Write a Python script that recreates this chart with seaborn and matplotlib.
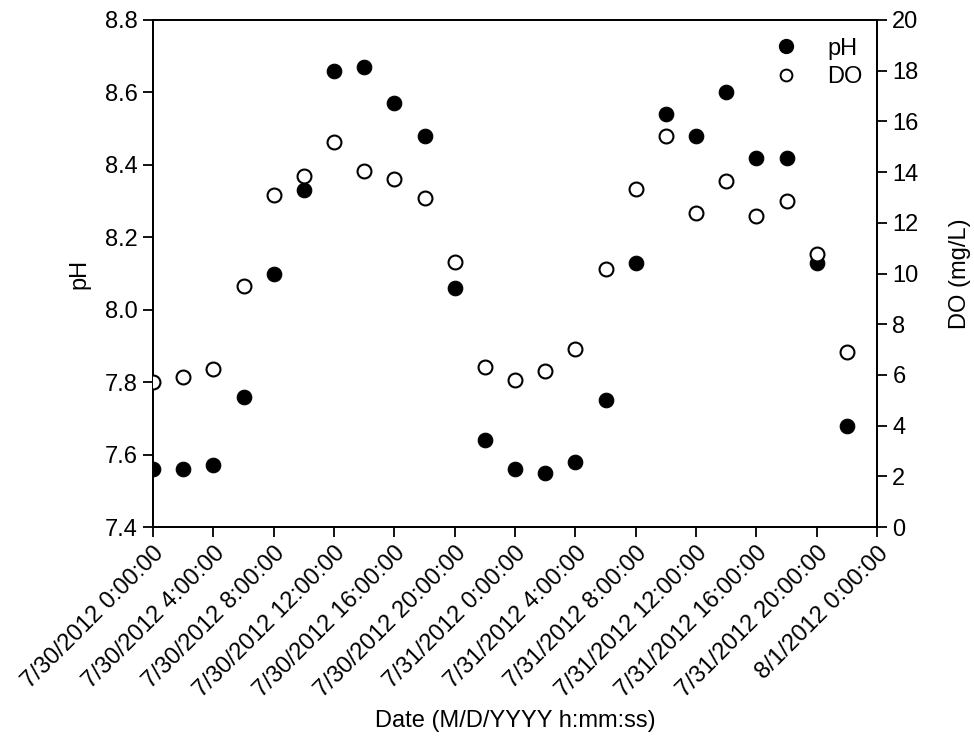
import matplotlib
matplotlib.use("Agg")
import matplotlib.pyplot as plt
import matplotlib.dates as mdates
from matplotlib.ticker import FuncFormatter, MultipleLocator
from matplotlib.lines import Line2D
import seaborn as sns
import pandas as pd
import numpy as np

sns.set_theme(style="ticks")
plt.rcParams['font.family'] = ['Liberation Sans', 'DejaVu Sans']
plt.rcParams['text.color'] = 'black'

# Data (every 2 hours starting 7/30/2012 0:00:00)
hours = [0, 2, 4, 6, 8, 10, 12, 14, 16, 18, 20, 22,
         24, 26, 28, 30, 32, 34, 36, 38, 40, 42, 44, 46]
ph = [7.56, 7.56, 7.57, 7.76, 8.10, 8.33, 8.66, 8.67, 8.57, 8.48, 8.06, 7.64,
      7.56, 7.55, 7.58, 7.75, 8.13, 8.54, 8.48, 8.60, 8.42, 8.42, 8.13, 7.68]
do = [5.72, 5.93, 6.23, 9.51, 13.10, 13.86, 15.19, 14.03, 13.73, 12.98, 10.45, 6.32,
      5.80, 6.17, 7.01, 10.19, 13.35, 15.44, 12.40, 13.64, 12.27, 12.85, 10.77, 6.89]

start = pd.Timestamp("2012-07-30 00:00:00")
times = [start + pd.Timedelta(hours=h) for h in hours]
df = pd.DataFrame({"time": times, "pH": ph, "DO": do})

FS = 17

fig = plt.figure(figsize=(9.74, 7.38), dpi=100)
ax = fig.add_axes([153/974, 1-527/738, (877-153)/974, (527-20)/738])
ax2 = ax.twinx()

sns.scatterplot(data=df, x="time", y="pH", ax=ax, color="black", edgecolor="black",
                s=110, linewidth=0.8, zorder=3, legend=False)
sns.scatterplot(data=df, x="time", y="DO", ax=ax2, facecolor="white", edgecolor="black",
                s=100, linewidth=1.5, zorder=3, legend=False)

x0 = mdates.date2num(start.to_pydatetime())
x1 = mdates.date2num((start + pd.Timedelta(hours=48)).to_pydatetime())
ax.set_xlim(x0, x1)
ax.set_ylim(7.4, 8.8)
ax2.set_ylim(0, 20)

ax.xaxis.set_major_locator(mdates.HourLocator(byhour=[0, 4, 8, 12, 16, 20]))

def fmt(x, pos):
    d = mdates.num2date(x)
    return f"{d.month}/{d.day}/{d.year} {d.hour}:{d.minute:02d}:{d.second:02d}"

ax.xaxis.set_major_formatter(FuncFormatter(fmt))
ax.yaxis.set_major_locator(MultipleLocator(0.2))
ax.yaxis.set_major_formatter(FuncFormatter(lambda v, p: f"{v:.1f}"))
ax2.yaxis.set_major_locator(MultipleLocator(2))

for a in (ax, ax2):
    for s in a.spines.values():
        s.set_visible(True)
        s.set_color("black")
        s.set_linewidth(1.3)
    a.tick_params(axis="both", direction="out", length=7, width=1.3, colors="black",
                  labelsize=FS, labelcolor="black", pad=4)

for lab in ax.get_xticklabels():
    lab.set_rotation(45)
    lab.set_ha("right")
    lab.set_rotation_mode("anchor")

ax.set_xlabel("Date (M/D/YYYY h:mm:ss)", fontsize=FS, color="black", labelpad=6)
ax.set_ylabel("pH", fontsize=FS, color="black", labelpad=10)
ax2.set_ylabel("DO (mg/L)", fontsize=FS, color="black", labelpad=22)

handles = [
    Line2D([], [], linestyle="none", marker="o", markersize=10, markerfacecolor="black",
           markeredgecolor="black", label="pH"),
    Line2D([], [], linestyle="none", marker="o", markersize=8.5, markerfacecolor="white",
           markeredgecolor="black", markeredgewidth=1.4, label="DO"),
]
ax2.legend(handles=handles, loc="upper right", frameon=False, fontsize=FS,
           bbox_to_anchor=(1.003, 0.998), handletextpad=0.75, labelspacing=0.28,
           borderaxespad=0.3, labelcolor="black")

fig.savefig("out.png", dpi=100)
